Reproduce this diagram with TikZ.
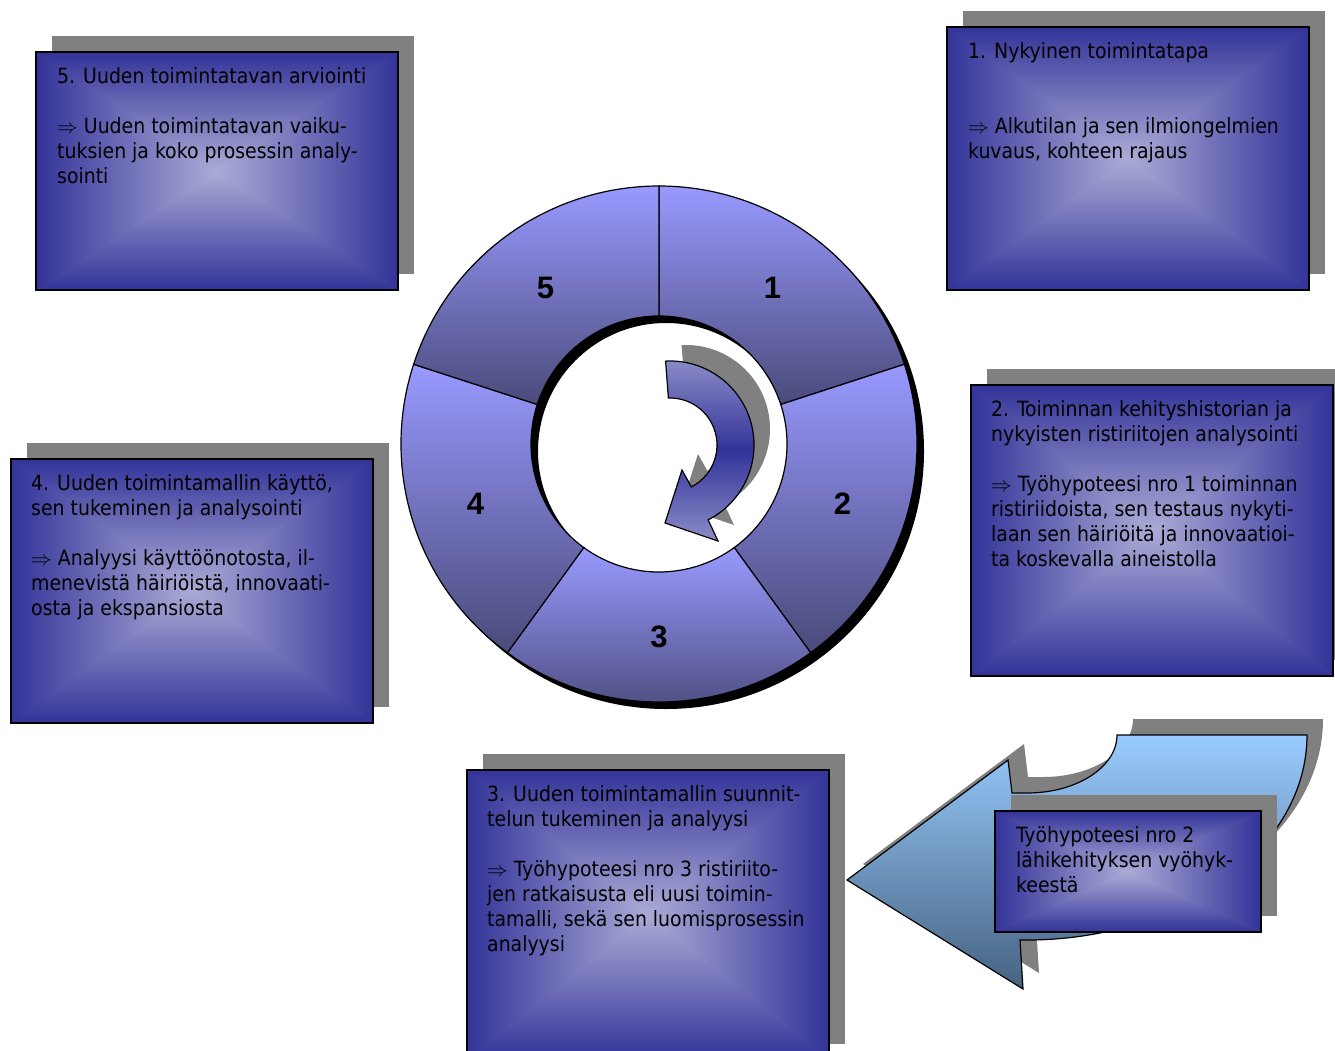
\documentclass[tikz,border=0pt]{standalone}
\usepackage{fontspec}
\setmainfont{DejaVu Sans Condensed}
\newfontfamily\numfont{Liberation Sans}
\usetikzlibrary{shadows,calc}

\definecolor{shadowgray}{RGB}{128,128,128}
\definecolor{ringtop}{RGB}{153,153,255}
\definecolor{ringbottom}{RGB}{74,74,122}
\definecolor{turnmid}{RGB}{51,51,153}
\definecolor{turnend}{RGB}{140,140,200}
\definecolor{bendtop}{RGB}{153,204,255}
\definecolor{bendbottom}{RGB}{70,98,128}

% light middle, dark blue rim (max norm)
\pgfdeclarefunctionalshading{boxglow}{\pgfpoint{-50bp}{-50bp}}{\pgfpoint{50bp}{50bp}}{}{
  abs exch abs 2 copy sub abs add add 2 div 25 div
  dup 1 sub abs neg 1 add add 2 div
  dup 0.47 mul 0.67 exch sub
  exch dup 0.47 mul 0.67 exch sub
  exch 0.24 mul 0.84 exch sub
}

\tikzset{
  stagebox/.style={draw=black, line width=1.6pt, shading=boxglow, anchor=north west,
    minimum width=362pt, minimum height=#1, inner sep=0pt,
    general shadow={shadow xshift=16pt, shadow yshift=16pt, fill=shadowgray}},
  stagetext/.style={anchor=north west, align=left, inner sep=0pt,
    font=\fontsize{21}{25}\selectfont},
  segment/.style={draw=black, line width=1.2pt, top color=ringtop, bottom color=ringbottom},
  ringnum/.style={font=\numfont\bfseries\fontsize{31}{31}\selectfont},
  turnarrow/.style={draw=black, line width=1.2pt, top color=turnend, bottom color=turnend, middle color=turnmid},
  bendarrow/.style={draw=black, line width=1.2pt, top color=bendtop, bottom color=bendbottom},
}

\def\turnpath{(-93:84) arc[start angle=-93, end angle=63, radius=84] -- (48,96) -- (-5,78)
  -- (12,25) -- (63:47) arc[start angle=63, end angle=-92, radius=47] -- cycle}
\def\bendpath{(90,0) -- (280,0) arc[start angle=0, end angle=90, x radius=280, y radius=205]
  -- (-7,205) -- (-4,254) -- (-180,145) -- (-19,25) -- (-15,58) -- (0,58)
  arc[start angle=90, end angle=0, x radius=90, y radius=58] -- cycle}

\begin{document}
\begin{tikzpicture}[x=1pt, y=-1pt]
    \useasboundingbox (0,0) rectangle (1335,1051);
    \clip (0,0) rectangle (1335,1051);

    % ring
    \coordinate (hub) at (659,444);
    \fill[black, even odd rule] ($(hub)+(7,7)$) circle[radius=258] circle[radius=128];
    \foreach \n in {1,...,5}{
      \pgfmathsetmacro{\fromang}{-162+72*\n}
      \pgfmathsetmacro{\toang}{\fromang+72}
      \pgfmathsetmacro{\midang}{\fromang+36}
      \draw[segment] ($(hub)+(\fromang:258)$) arc[start angle=\fromang, end angle=\toang, radius=258]
        -- ($(hub)+(\toang:128)$) arc[start angle=\toang, end angle=\fromang, radius=128] -- cycle;
      \node[ringnum] (seg\n) at ($(hub)+(\midang:193)$) {\n};
    }

    % turning arrow in the hole
    \fill[shadowgray, shift={(686,429)}] \turnpath;
    \draw[turnarrow, shift={(670,445)}] \turnpath;

    % stage boxes
    \node[stagebox=238pt] (box5) at (35,51) {};
    \node[stagetext] (txt5) at ($(box5.north west)+(22,16.5)$)
      {5. Uuden toimintatavan arviointi\\[25pt]
       $\Rightarrow$ Uuden toimintatavan vaiku-\\tuksien ja koko prosessin analy-\\sointi};

    \node[stagebox=263pt] (box1) at (946,26) {};
    \node[stagetext] (txt1) at ($(box1.north west)+(22,16.5)$)
      {1. Nykyinen toimintatapa\\[50pt]
       $\Rightarrow$ Alkutilan ja sen ilmiongelmien\\kuvaus, kohteen rajaus};

    \node[stagebox=291pt] (box2) at (970,384) {};
    \node[stagetext] (txt2) at ($(box2.north west)+(21,16.5)$)
      {2. Toiminnan kehityshistorian ja\\nykyisten ristiriitojen analysointi\\[25pt]
       $\Rightarrow$ Työhypoteesi nro 1 toiminnan\\ristiriidoista, sen testaus nykyti-\\laan sen häiriöitä ja innovaatioi-\\ta koskevalla aineistolla};

    \node[stagebox=264pt] (box4) at (10,458) {};
    \node[stagetext] (txt4) at ($(box4.north west)+(21,16.5)$)
      {4. Uuden toimintamallin käyttö,\\sen tukeminen ja analysointi\\[25pt]
       $\Rightarrow$ Analyysi käyttöönotosta, il-\\menevistä häiriöistä, innovaati-\\osta ja ekspansiosta};

    \node[stagebox=290pt] (box3) at (466,769) {};
    \node[stagetext] (txt3) at ($(box3.north west)+(21,16.5)$)
      {3. Uuden toimintamallin suunnit-\\telun tukeminen ja analyysi\\[25pt]
       $\Rightarrow$ Työhypoteesi nro 3 ristiriito-\\jen ratkaisusta eli uusi toimin-\\tamalli, sekä sen luomisprosessin\\analyysi};

    % bent arrow with the second hypothesis
    \fill[shadowgray, shift={(1043,719)}] \bendpath;
    \draw[bendarrow, shift={(1027,735)}] \bendpath;
    \node[stagebox=121pt, minimum width=266pt] (hypo) at (994,810) {};
    \node[stagetext] (txthypo) at ($(hypo.north west)+(22,16.5)$)
      {Työhypoteesi nro 2\\lähikehityksen vyöhyk-\\keestä};
\end{tikzpicture}
\end{document}
